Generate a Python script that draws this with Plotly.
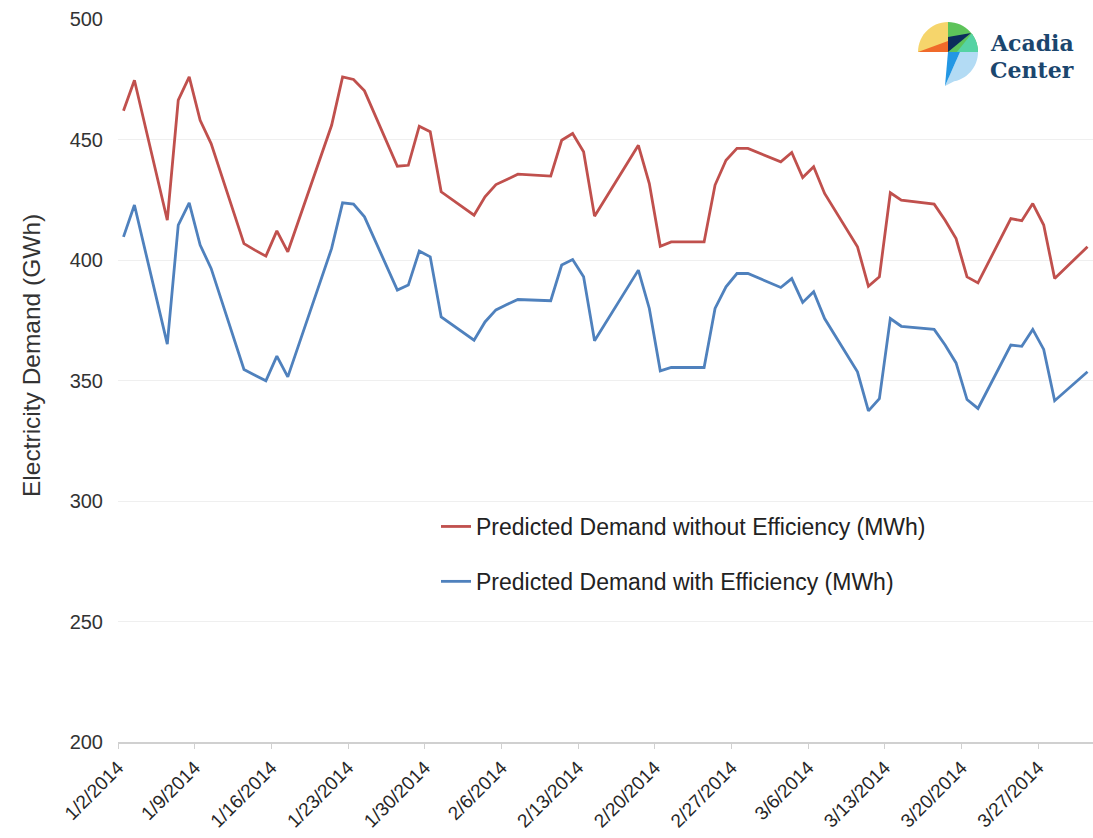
import numpy as np
import pandas as pd
import plotly.graph_objects as go

# ---------------- data ----------------
dates = [
    "2014-01-02", "2014-01-03", "2014-01-06", "2014-01-07", "2014-01-08", "2014-01-09", "2014-01-10",
    "2014-01-13", "2014-01-14", "2014-01-15", "2014-01-16", "2014-01-17",
    "2014-01-21", "2014-01-22", "2014-01-23", "2014-01-24",
    "2014-01-27", "2014-01-28", "2014-01-29", "2014-01-30", "2014-01-31",
    "2014-02-03", "2014-02-04", "2014-02-05", "2014-02-06", "2014-02-07",
    "2014-02-10", "2014-02-11", "2014-02-12", "2014-02-13", "2014-02-14",
    "2014-02-18", "2014-02-19", "2014-02-20", "2014-02-21",
    "2014-02-24", "2014-02-25", "2014-02-26", "2014-02-27", "2014-02-28",
    "2014-03-03", "2014-03-04", "2014-03-05", "2014-03-06", "2014-03-07",
    "2014-03-10", "2014-03-11", "2014-03-12", "2014-03-13", "2014-03-14",
    "2014-03-17", "2014-03-18", "2014-03-19", "2014-03-20", "2014-03-21",
    "2014-03-24", "2014-03-25", "2014-03-26", "2014-03-27", "2014-03-28",
    "2014-03-31",
]

without_eff = [
    461.9, 474.6, 416.5, 466.3, 476.0, 458.0, 448.3,
    406.8, 404.1, 401.6, 412.1, 403.4,
    455.9, 476.0, 474.9, 470.2,
    438.9, 439.3, 455.5, 453.2, 428.3,
    418.6, 426.2, 431.3, 433.4, 435.6,
    434.8, 449.7, 452.5, 444.9, 418.2,
    447.6, 431.7, 405.7, 407.5,
    407.5, 431.1, 441.4, 446.3, 446.3,
    440.7, 444.6, 434.2, 438.7, 427.6,
    405.5, 389.1, 393.0, 427.9, 424.8,
    423.2, 416.5, 408.9, 393.0, 390.5,
    417.2, 416.3, 423.4, 414.5, 392.3,
    405.5,
]

with_eff = [
    409.6, 422.8, 365.1, 414.5, 423.7, 406.2, 396.5,
    354.6, 352.2, 349.9, 360.1, 351.5,
    404.8, 423.7, 423.2, 417.9,
    387.5, 389.6, 403.7, 401.3, 376.4,
    366.7, 374.3, 379.3, 381.5, 383.6,
    383.1, 397.9, 400.2, 393.0, 366.5,
    395.8, 379.9, 354.0, 355.4,
    355.4, 379.9, 388.9, 394.4, 394.4,
    388.6, 392.3, 382.4, 386.8, 375.7,
    353.6, 337.4, 342.5, 375.7, 372.5,
    371.2, 364.7, 357.3, 342.1, 338.4,
    364.7, 364.2, 371.2, 362.9, 341.6,
    353.6,
]

tick_dates = ["2014-01-02", "2014-01-09", "2014-01-16", "2014-01-23", "2014-01-30",
              "2014-02-06", "2014-02-13", "2014-02-20", "2014-02-27", "2014-03-06",
              "2014-03-13", "2014-03-20", "2014-03-27"]
tick_labels = ["1/2/2014", "1/9/2014", "1/16/2014", "1/23/2014", "1/30/2014",
               "2/6/2014", "2/13/2014", "2/20/2014", "2/27/2014", "3/6/2014",
               "3/13/2014", "3/20/2014", "3/27/2014"]

y_ticks = [200, 250, 300, 350, 400, 450, 500]

series_names = ["Predicted Demand without Efficiency (MWh)",
                "Predicted Demand with Efficiency (MWh)"]

# ---------------- figure ----------------
W, H = 1093, 838
ML, MR, MT, MB = 118, 0, 19, 96
PW, PH = W - ML - MR, H - MT - MB

# each day occupies a slot; points sit at the slot centre
x_vals = pd.to_datetime(dates) + pd.Timedelta(hours=12)

fig = go.Figure()
fig.add_trace(go.Scatter(x=x_vals, y=without_eff, mode="lines", name=series_names[0],
                         line=dict(color="#c0504d", width=2.8), legendgroup="a"))
fig.add_trace(go.Scatter(x=x_vals, y=with_eff, mode="lines", name=series_names[1],
                         line=dict(color="#4f81bd", width=2.8), legendgroup="b"))

font_family = "Liberation Sans, Arial, sans-serif"

fig.update_layout(
    width=W, height=H,
    margin=dict(l=ML, r=MR, t=MT, b=MB, autoexpand=False),
    paper_bgcolor="white", plot_bgcolor="white",
    font=dict(family=font_family, color="#333333"),
    showlegend=True,
    legend=dict(x=(436 - ML) / PW, y=(742 - 505) / PH, xanchor="left", yanchor="top",
                bgcolor="rgba(0,0,0,0)", font=dict(size=23, color="#222222"),
                tracegroupgap=22, itemwidth=30),
    xaxis=dict(
        type="date",
        range=["2014-01-02", "2014-04-01"],
        tickmode="array", tickvals=tick_dates, ticktext=tick_labels,
        tickangle=-45, tickfont=dict(size=19, color="#262626"),
        ticks="outside", ticklen=5, tickcolor="#d0d0d0", tickwidth=1,
        showline=True, linecolor="#d0d0d0", linewidth=2,
        showgrid=False, zeroline=False,
    ),
    yaxis=dict(
        range=[200, 500], tickmode="array", tickvals=y_ticks,
        tickfont=dict(size=20, color="#333333"),
        showgrid=True, gridcolor="#efefef", gridwidth=1,
        zeroline=False, showline=False, ticks="",
        ticklabelstandoff=14,
    ),
)

def px(x, y):
    return (x - ML) / PW, (H - MB - y) / PH

logo_font = dict(size=22, color="#1b466e", family="DejaVu Serif, Liberation Serif, serif",
                 weight="bold")

annotations = [
    dict(text="Electricity Demand (GWh)", textangle=-90, showarrow=False,
         xref="paper", yref="paper", x=px(31, 0)[0], y=px(0, 356)[1],
         xanchor="center", yanchor="middle",
         font=dict(size=24.5, color="#333333", family=font_family)),
    dict(text="Acadia", showarrow=False, xref="paper", yref="paper",
         x=px(988, 0)[0], y=px(0, 43)[1], xanchor="left", yanchor="middle",
         font=logo_font),
    dict(text="Center", showarrow=False, xref="paper", yref="paper",
         x=px(988, 0)[0], y=px(0, 70)[1], xanchor="left", yanchor="middle",
         font=logo_font),
]

# ---------------- logo (drawn with shapes, pixel geometry) ----------------
cx, cy, R = 948, 52, 30

def arc(a0, a1, n=16, r=R):
    t = np.radians(np.linspace(a0, a1, n))
    return [(cx + r * np.cos(a), cy - r * np.sin(a)) for a in t]

def path(points):
    pts = [px(x, y) for x, y in points]
    return "M " + " L ".join(f"{a:.5f},{b:.5f}" for a, b in pts) + " Z"

logo_parts = [
    ([(cx, cy)] + arc(180, 90), "#f6d56b"),
    ([(cx, cy)] + arc(90, 0), "#5dc35a"),
    ([(918, 52), (cx, cy), (cx, 41)], "#f06a2a"),
    ([(957, 52)] + arc(38, 0), "#56d3a4"),
    ([(cx, cy), (cx, 37), (971, 33)], "#0c2c5c"),
    ([(960, 52)] + arc(0, -78) + [(945, 86)], "#b3dbf4"),
    ([(cx, cy), (960, 52), (945, 86)], "#2397e4"),
]
shapes = []
for pts, col in logo_parts:
    shapes.append(dict(type="path", xref="paper", yref="paper", path=path(pts),
                       fillcolor=col, line=dict(width=0), layer="above"))

fig.update_layout(annotations=annotations, shapes=shapes)

fig.write_html("out.html", config={"displayModeBar": False},
               post_script="document.body.style.margin='0';document.body.style.overflow='hidden';")
